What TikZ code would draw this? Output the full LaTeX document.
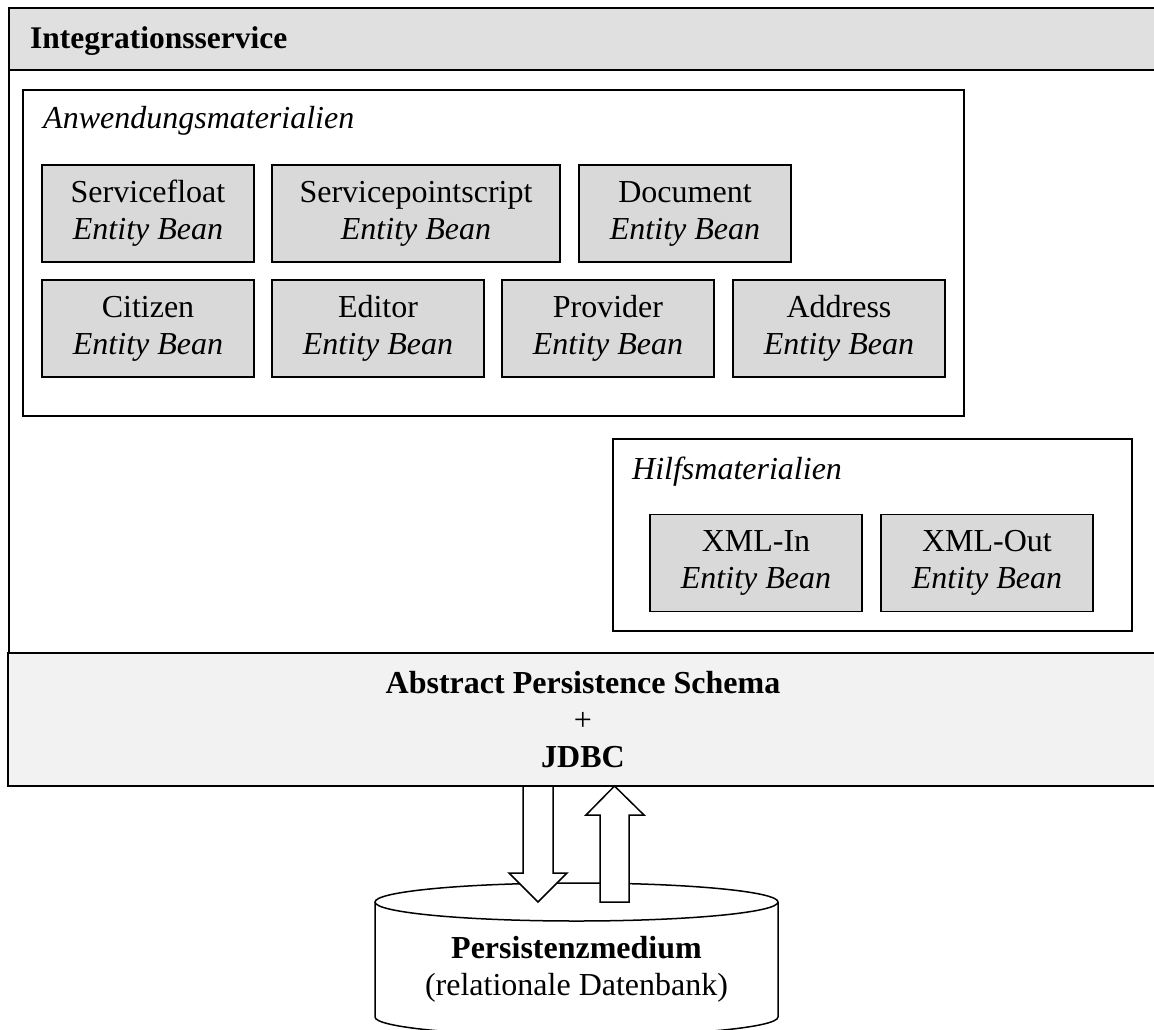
\documentclass[tikz,border=0pt]{standalone}
\usepackage{fontspec}
\setmainfont{Liberation Serif}
\definecolor{headgray}{HTML}{E0E0E0}
\definecolor{beangray}{HTML}{D9D9D9}
\definecolor{schemagray}{HTML}{F2F2F2}
\tikzset{
  txt/.style={font=\fontsize{32}{37}\selectfont},
  bean/.style={txt, draw, fill=beangray, line width=1.6pt, minimum width=212, minimum height=97, inner sep=0pt, align=center},
  frame/.style={draw, line width=1.8pt, anchor=north west, inner sep=0pt},
  hollow/.style={draw, fill=white, line width=1.5pt, line join=miter}
}
\begin{document}
\begin{tikzpicture}[x=1pt, y=-1pt]
    \useasboundingbox (0,0) rectangle (1154,1029);
    % Integrationsservice
    \node[frame, minimum width=1150, minimum height=646] (integ) at (8,7) {};
    \node[frame, fill=headgray, minimum width=1150, minimum height=62] (integhead) at (8,7) {};
    \node[anchor=base west, inner sep=0pt, font=\fontsize{31.5}{37}\selectfont\bfseries] (integlabel) at (30,48) {Integrationsservice};
    % Anwendungsmaterialien
    \node[frame, minimum width=941, minimum height=326] (anw) at (22,89) {};
    \node[txt, anchor=base west, inner sep=0pt] (anwlabel) at (43,128) {\textit{Anwendungsmaterialien}};
    \node[bean] (sfloat) at (148,213.5) {Servicefloat\\\textit{Entity Bean}};
    \node[bean, minimum width=288] (spscript) at (416,213.5) {Servicepointscript\\\textit{Entity Bean}};
    \node[bean] (document) at (685,213.5) {Document\\\textit{Entity Bean}};
    \node[bean] (citizen) at (148,328.5) {Citizen\\\textit{Entity Bean}};
    \node[bean] (editor) at (378,328.5) {Editor\\\textit{Entity Bean}};
    \node[bean] (provider) at (608,328.5) {Provider\\\textit{Entity Bean}};
    \node[bean] (address) at (839,328.5) {Address\\\textit{Entity Bean}};
    % Hilfsmaterialien
    \node[frame, minimum width=519, minimum height=192] (hilf) at (612,438) {};
    \node[txt, anchor=base west, inner sep=0pt] (hilflabel) at (632,479) {\textit{Hilfsmaterialien}};
    \node[bean] (xmlin) at (756,563) {XML-In\\\textit{Entity Bean}};
    \node[bean] (xmlout) at (987,563) {XML-Out\\\textit{Entity Bean}};
    % Persistenzschicht
    \node[txt, draw, line width=1.8pt, fill=schemagray, minimum width=1150, minimum height=133, align=center] (persist) at (583,719.5)
        {\textbf{Abstract Persistence Schema}\\+\\\textbf{JDBC}};
    % Datenbank
    \draw[line width=1.5pt, fill=white] (375,902) -- (375,1017)
        .. controls (375,1027.5) and (465.2,1036) .. (576.5,1036)
        .. controls (687.8,1036) and (778,1027.5) .. (778,1017) -- (778,902);
    \draw[line width=1.5pt] (576.5,902) ellipse [x radius=201.5, y radius=19];
    \node[txt, align=center] (db) at (576.5,969) {\textbf{Persistenzmedium}\\(relationale Datenbank)};
    % Zugriffe
    \draw[hollow] (523,786) -- (523,873) -- (509,873) -- (538,902) -- (567,873) -- (553,873) -- (553,786) -- cycle;
    \draw[hollow] (600,902) -- (600,815) -- (586,815) -- (614.5,786) -- (644,815) -- (629,815) -- (629,902) -- cycle;
\end{tikzpicture}
\end{document}
